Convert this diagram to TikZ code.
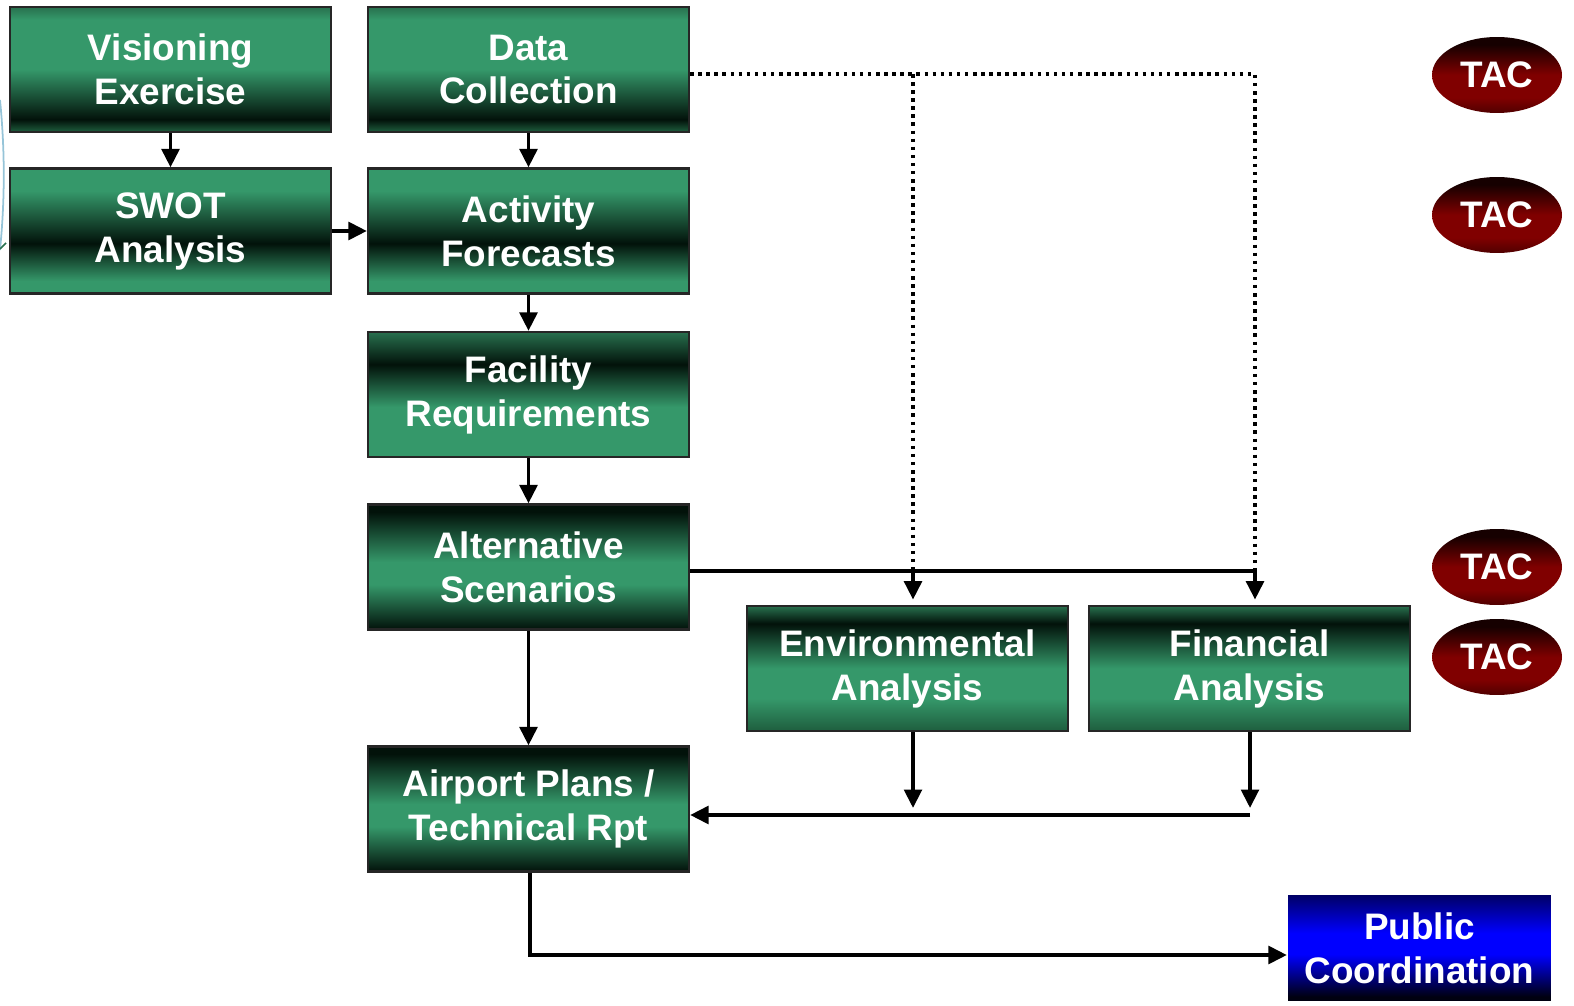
\documentclass[tikz,border=0pt]{standalone}
\usepackage{fontspec}
\setmainfont{Liberation Sans}
\usetikzlibrary{arrows.meta,shapes.geometric}
\definecolor{ggreen}{RGB}{53,152,106}
\definecolor{gdark}{RGB}{2,18,10}
\definecolor{gedge}{RGB}{40,112,78}
\definecolor{gbot}{RGB}{30,94,62}
\definecolor{bblue}{RGB}{0,0,255}
\definecolor{bdark}{RGB}{0,0,16}
\definecolor{btop}{RGB}{0,0,102}
\definecolor{rred}{RGB}{128,0,0}
\definecolor{rdark}{RGB}{22,0,0}
\definecolor{rbot}{RGB}{80,0,0}
\definecolor{arcblue}{RGB}{150,196,216}
\pgfdeclareverticalshading{visshade}{100bp}{color(0bp)=(gdark); color(25bp)=(gbot); color(30bp)=(gdark); color(50bp)=(ggreen); color(70bp)=(ggreen); color(75bp)=(gedge); color(100bp)=(gedge)}
\pgfdeclareverticalshading{midshade}{100bp}{color(0bp)=(ggreen); color(25bp)=(ggreen); color(30bp)=(ggreen); color(45bp)=(gdark); color(66bp)=(ggreen); color(75bp)=(ggreen); color(100bp)=(ggreen)}
\pgfdeclareverticalshading{facshade}{100bp}{color(0bp)=(ggreen); color(25bp)=(ggreen); color(45bp)=(ggreen); color(62bp)=(gdark); color(75bp)=(gedge); color(100bp)=(gedge)}
\pgfdeclareverticalshading{altshade}{100bp}{color(0bp)=(gdark); color(25bp)=(gdark); color(43bp)=(ggreen); color(52bp)=(ggreen); color(72bp)=(gdark); color(75bp)=(gdark); color(100bp)=(gdark)}
\pgfdeclareverticalshading{envshade}{100bp}{color(0bp)=(gbot); color(25bp)=(gbot); color(38bp)=(ggreen); color(50bp)=(ggreen); color(68bp)=(gdark); color(75bp)=(gedge); color(100bp)=(gedge)}
\pgfdeclareverticalshading{pubshade}{100bp}{color(0bp)=(bdark); color(27bp)=(bdark); color(47bp)=(bblue); color(57bp)=(bblue); color(75bp)=(btop); color(100bp)=(btop)}
\pgfdeclareverticalshading{tacshade}{100bp}{color(0bp)=(rbot); color(25bp)=(rbot); color(35bp)=(rred); color(50bp)=(rred); color(70bp)=(rdark); color(75bp)=(rdark); color(100bp)=(rdark)}
\begin{document}
\begin{tikzpicture}[x=0.02cm,y=-0.02cm,
    box/.style={draw=black!85,line width=1.3pt,shade,minimum width=6.42cm,minimum height=2.5cm,inner sep=0pt,align=center,text=white,font=\fontsize{21}{25}\selectfont\bfseries},
    tac/.style={ellipse,shade,shading=tacshade,minimum width=2.6cm,minimum height=1.52cm,inner sep=0pt,text=white,font=\fontsize{21}{25}\selectfont\bfseries},
    arr/.style={line width=2.2pt,-{Triangle[length=10.5pt,width=10pt]}},
    conn/.style={line width=2.2pt},
    dots/.style={line width=2pt,dash pattern=on 2pt off 2.6pt}]
  \useasboundingbox (0,0) rectangle (1574,1006);
  % cut-off ring at the left edge
  \draw[arcblue,line width=1pt] (0,100) .. controls (5,150) and (5,200) .. (0,250);
  \draw[gedge,line width=1pt] (0,249) -- (6,243);
  % boxes
  \node[box,shading=visshade] (vis) at (170.5,69.5) {Visioning\\Exercise};
  \node[box,shading=visshade] (data) at (528.5,69.5) {Data\\Collection};
  \node[box,shading=midshade] (swot) at (170.5,231) {SWOT\\Analysis};
  \node[box,shading=midshade] (act) at (528.5,231) {Activity\\Forecasts};
  \node[box,shading=facshade] (fac) at (528.5,394.5) {Facility\\Requirements};
  \node[box,shading=altshade] (alt) at (528.5,567) {Alternative\\Scenarios};
  \node[box,shading=envshade] (env) at (907.5,668.5) {Environmental\\Analysis};
  \node[box,shading=envshade] (fin) at (1249.5,668.5) {Financial\\Analysis};
  \node[box,shading=altshade] (plan) at (528.5,809) {Airport Plans /\\Technical Rpt};
  \node[box,shading=pubshade,draw=none,minimum width=5.26cm,minimum height=2.12cm] (pub) at (1419.5,948) {Public\\Coordination};
  % TAC marks
  \foreach \n/\y in {1/75,2/215,3/567,4/657}
    \node[tac] (tac\n) at (1497,\y) {TAC};
  % junctions
  \coordinate (d1) at (913,74);
  \coordinate (d2) at (1255,74);
  \coordinate (j1) at (913,571);
  \coordinate (j2) at (1255,571);
  \coordinate (m1) at (913,815);
  \coordinate (m2) at (1250,815);
  \coordinate (c1) at (530,955);
  % connectors
  \draw[arr] (vis) -- (swot);
  \draw[arr] (data) -- (act);
  \draw[arr] (swot) -- (act);
  \draw[arr] (act) -- (fac);
  \draw[arr] (fac) -- (alt);
  \draw[arr] (alt) -- (plan);
  \draw[dots] (data.east |- d1) -- (d2) -- (j2);
  \draw[dots] (d1) -- (j1);
  \draw[conn] (alt.east |- j1) -- (j2);
  \draw[arr,shorten >=3pt] (j1) -- (env.north -| j1);
  \draw[arr,shorten >=3pt] (j2) -- (fin.north -| j2);
  \draw[arr,shorten >=4pt] (env.south -| m1) -- (m1);
  \draw[arr,shorten >=4pt] (fin.south -| m2) -- (m2);
  \draw[arr] (m2) -- (plan.east |- m2);
  \draw[arr] (plan.south -| c1) -- (c1) -- (pub.west |- c1);
\end{tikzpicture}
\end{document}
